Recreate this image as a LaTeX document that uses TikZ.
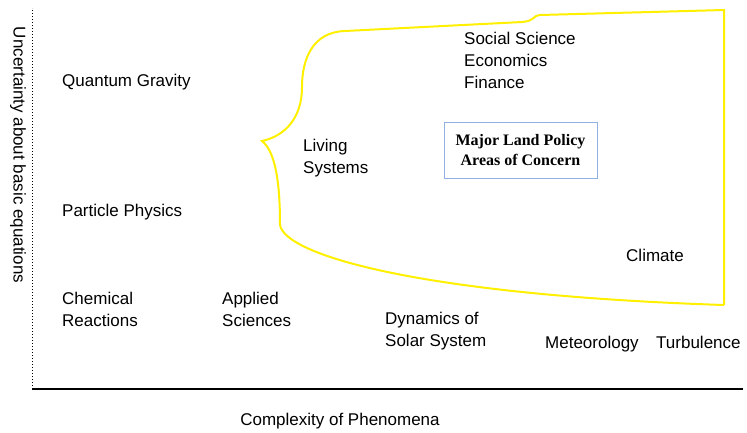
\documentclass[tikz,border=0pt]{standalone}
\usepackage{fontspec}
\setmainfont{Liberation Sans}
\newfontfamily\boxfont{Liberation Serif}
\definecolor{boxblue}{HTML}{8FB0E0}
\definecolor{zone}{HTML}{FFF000}
\begin{document}
\begin{tikzpicture}[x=1pt,y=-1pt,font=\fontsize{17}{22}\selectfont,
  lbl/.style={anchor=west,align=left,inner sep=0pt}]
\useasboundingbox (0,0) rectangle (747,432);
% axes
\coordinate(o) at (32,389); \coordinate(top) at (32,8); \coordinate(end) at (743,389);
\draw[dotted,line width=1pt] (o) -- (top);
\draw[line width=1.6pt] (o) -- (end);
\node(yl) at (18,155) [rotate=-90] {Uncertainty about basic equations};
\node(xl) at (340,421) {Complexity of Phenomena};
% region of concern
\draw[zone,line width=2pt] (724,305) -- (724,10) -- (540,15)
  .. controls (532,16) and (535,21) .. (522,22) -- (345,31)
  .. controls (312,32) and (302,60) .. (302,87)
  .. controls (302,118) and (285,136) .. (262,141)
  .. controls (276,152) and (280,185) .. (280,225)
  .. controls (285,255) and (420,295) .. (724,305);
\node(box) at (520.5,150) [draw=boxblue,line width=1pt,minimum width=153,minimum height=56,
  align=center,font=\boxfont\bfseries\fontsize{16}{20}\selectfont] {Major Land Policy\\Areas of Concern};
% fields
\node(qg) at (62,82) [lbl] {Quantum Gravity};
\node(pp) at (62,212) [lbl] {Particle Physics};
\node(cr) at (62,309) [lbl] {Chemical\\Reactions};
\node(as) at (222,309) [lbl] {Applied\\Sciences};
\node(ds) at (385,331) [lbl] {Dynamics of\\Solar System};
\node(me) at (545,348) [lbl,anchor=base west] {Meteorology};
\node(tu) at (656,348) [lbl,anchor=base west] {Turbulence};
\node(ls) at (303,158) [lbl] {Living\\Systems};
\node(ss) at (464,60) [lbl] {Social Science\\Economics\\Finance};
\node(cl) at (626,255) [lbl] {Climate};
\end{tikzpicture}
\end{document}
